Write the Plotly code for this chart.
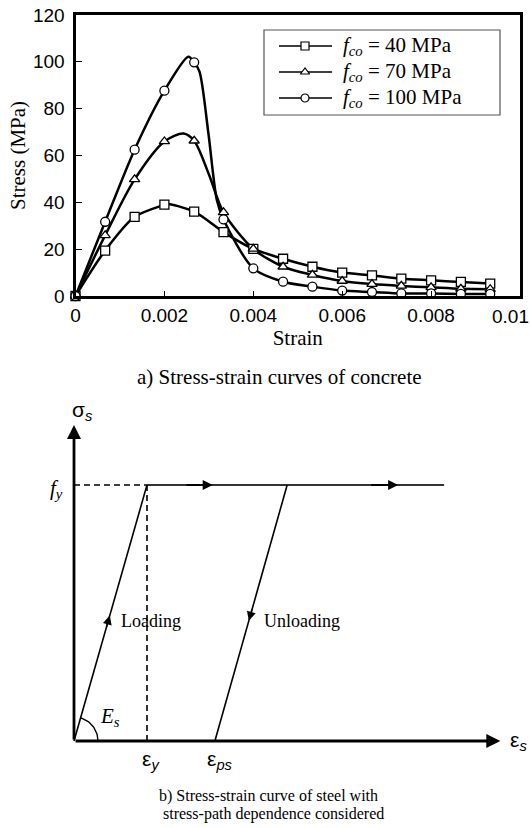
import numpy as np
import plotly.graph_objects as go

# ---------------- data: a) concrete stress-strain curves ----------------
strain_pts = [0, 0.000667, 0.00133, 0.002, 0.00267, 0.00333, 0.004, 0.00467,
              0.00533, 0.006, 0.00667, 0.00733, 0.008, 0.00867, 0.00933]
stress_40 = [0, 19.4, 33.8, 39.0, 36.0, 27.3, 20.1, 15.9, 12.5, 10.0, 8.8, 7.4, 6.7, 6.0, 5.3]
stress_70 = [0, 25.9, 49.8, 66.0, 66.3, 35.7, 20.1, 12.5, 9.0, 6.4, 5.1, 4.3, 3.7, 3.1, 2.9]
stress_100 = [0, 31.7, 62.5, 87.7, 99.8, 32.7, 11.8, 6.1, 4.0, 2.3, 1.7, 1.1, 1.1, 0.9, 0.9]

# additional points (between markers)
extra_40_x, extra_40_y = [0.00205], [39.4]
extra_70_x, extra_70_y = [0.00243, 0.0030], [69.4, 52.0]
extra_100_x, extra_100_y = [0.00254, 0.00279, 0.00299, 0.00318], [102.2, 95.8, 69.5, 41.0]

series_names = ["<i>f</i><sub><i>co</i></sub> = 40 MPa",
                "<i>f</i><sub><i>co</i></sub> = 70 MPa",
                "<i>f</i><sub><i>co</i></sub> = 100 MPa"]
series_symbols = ["square", "triangle-up", "circle"]

x_ticks = [0, 0.002, 0.004, 0.006, 0.008, 0.01]
x_tick_text = ["0", "0.002", "0.004", "0.006", "0.008", ""]
x_last_tick_text = "0.01"  # drawn right-aligned at the page edge, as in the original
y_ticks = [0, 20, 40, 60, 80, 100, 120]

# ---------------- data: b) steel schematic (normalised units) ----------------
eps_y = 1.0
eps_ps = 1.93
eps_unload_top = 2.92
eps_end = 5.07
f_y = 1.0
eps_axis_end = 5.84
sig_axis_end = 1.234

SERIF = "Liberation Serif"
SANS = "Liberation Sans"


def merged(xa, ya, xb, yb):
    pts = sorted(zip(list(xa) + list(xb), list(ya) + list(yb)))
    return [p[0] for p in pts], [p[1] for p in pts]


fig = go.Figure()

series = [(stress_40, extra_40_x, extra_40_y),
          (stress_70, extra_70_x, extra_70_y),
          (stress_100, extra_100_x, extra_100_y)]

for (ys, ex, ey) in series:
    cx, cy = merged(strain_pts, ys, ex, ey)
    fig.add_trace(go.Scatter(x=cx, y=cy, mode="lines", showlegend=False,
                             line=dict(color="black", width=2.5, shape="spline", smoothing=0.8),
                             xaxis="x", yaxis="y", hoverinfo="skip"))

for (ys, _, _), sym in zip(series, series_symbols):
    fig.add_trace(go.Scatter(x=strain_pts, y=ys, mode="markers", showlegend=False,
                             marker=dict(symbol=sym, size=9, color="white",
                                         line=dict(color="black", width=1.3)),
                             cliponaxis=False, xaxis="x", yaxis="y"))

# ---------------- custom legend (pixel-space overlay axes x3/y3) ----------------
legend_rows_y = [46, 72, 98]
annotations = []
for name, sym, ry in zip(series_names, series_symbols, legend_rows_y):
    fig.add_trace(go.Scatter(x=[279, 332], y=[ry, ry], mode="lines", showlegend=False,
                             line=dict(color="black", width=1.3),
                             xaxis="x3", yaxis="y3", hoverinfo="skip"))
    fig.add_trace(go.Scatter(x=[305], y=[ry], mode="markers", showlegend=False,
                             marker=dict(symbol=sym, size=8, color="white",
                                         line=dict(color="black", width=1.2)),
                             xaxis="x3", yaxis="y3", hoverinfo="skip"))
    annotations.append(dict(x=341, y=ry, xref="x3", yref="y3", text=name, showarrow=False,
                            xanchor="left", yanchor="middle",
                            font=dict(family=SERIF, size=21, color="black")))

# last x tick label, right-aligned at the page edge
annotations.append(dict(x=1, y=1 - 317 / 828, xref="paper", yref="paper",
                        text=x_last_tick_text, showarrow=False,
                        xanchor="right", yanchor="middle",
                        font=dict(family=SANS, size=19, color="black")))

# ---------------- b) steel diagram ----------------
solid_lines = [([0, eps_y], [0, f_y], 1.6, "black"),
               ([eps_y, eps_end], [f_y, f_y], 2.2, "#333333"),
               ([eps_unload_top, eps_ps], [f_y, 0], 1.6, "black")]
for xs, ys, w, c in solid_lines:
    fig.add_trace(go.Scatter(x=xs, y=ys, mode="lines", showlegend=False,
                             line=dict(color=c, width=w), xaxis="x2", yaxis="y2",
                             hoverinfo="skip"))

dashed_lines = [([0, eps_y], [f_y, f_y]), ([eps_y, eps_y], [f_y, 0])]
for xs, ys in dashed_lines:
    fig.add_trace(go.Scatter(x=xs, y=ys, mode="lines", showlegend=False,
                             line=dict(color="black", width=1.6, dash="6px,4px"),
                             xaxis="x2", yaxis="y2", hoverinfo="skip"))

# E_s arc (radius ~24 px on screen)
px_per_x = 73.0
px_per_y = 256.0
ang = np.linspace(0, np.arctan2(f_y * px_per_y, eps_y * px_per_x), 30)
fig.add_trace(go.Scatter(x=24 * np.cos(ang) / px_per_x, y=24 * np.sin(ang) / px_per_y,
                         mode="lines", showlegend=False, line=dict(color="black", width=1.4),
                         xaxis="x2", yaxis="y2", hoverinfo="skip"))


def arrow(x, y, ax, ay, width, head=2, size=1.0):
    annotations.append(dict(x=x, y=y, ax=ax, ay=ay, xref="x2", yref="y2",
                            axref="x2", ayref="y2", text="", showarrow=True,
                            arrowhead=head, arrowsize=size, arrowwidth=width,
                            arrowcolor="black"))


# axes
arrow(0, sig_axis_end, 0, 0, 2.8, head=2, size=1.0)
arrow(eps_axis_end, 0, 0, 0, 2.8, head=2, size=1.0)
# direction arrows along the path
arrow(1.90, f_y, 1.52, f_y, 2.0, head=2, size=1.0)
arrow(4.44, f_y, 4.05, f_y, 2.0, head=2, size=1.0)
arrow(0.49, 0.49, 0.44, 0.44, 1.5, head=2, size=1.2)
arrow(eps_ps + (eps_unload_top - eps_ps) * 0.47, 0.47,
      eps_ps + (eps_unload_top - eps_ps) * 0.52, 0.52, 1.5, head=2, size=1.2)


def label(text, x, y, size, family, xanchor="center", yanchor="middle"):
    annotations.append(dict(x=x, y=y, xref="x2", yref="y2", text=text, showarrow=False,
                            xanchor=xanchor, yanchor=yanchor,
                            font=dict(family=family, size=size, color="black")))


label("σ<sub><i>s</i></sub>", 0.12, 1.29, 21, SANS)
label("<i>f<sub>y</sub></i>", -0.12, 0.985, 21, SERIF, xanchor="right")
label("Loading", 0.62, 0.47, 18, SERIF, xanchor="left")
label("Unloading", 2.57, 0.47, 18, SERIF, xanchor="left")
label("<i>E<sub>s</sub></i>", 0.49, 0.095, 21, SERIF)
label("ε<sub><i>y</i></sub>", 1.06, -0.075, 21, SANS)
label("ε<sub><i>ps</i></sub>", 2.0, -0.075, 21, SANS)
label("ε<sub><i>s</i></sub>", 5.95, 0.0, 21, SANS, xanchor="left")

# captions (paper coords)
annotations.append(dict(x=279 / 531, y=1 - 377 / 828, xref="paper", yref="paper",
                        xanchor="center", yanchor="middle",
                        text="a) Stress-strain curves of concrete", showarrow=False,
                        font=dict(family=SERIF, size=21, color="black")))
annotations.append(dict(x=268 / 531, y=1 - 796 / 828, xref="paper", yref="paper",
                        xanchor="center", yanchor="middle",
                        text="b) Stress-strain curve of steel with", showarrow=False,
                        font=dict(family=SERIF, size=16, color="black")))
annotations.append(dict(x=274 / 531, y=1 - 814 / 828, xref="paper", yref="paper",
                        xanchor="center", yanchor="middle",
                        text="stress-path dependence considered", showarrow=False,
                        font=dict(family=SERIF, size=16, color="black")))

# legend box
shapes = [dict(type="rect", xref="paper", yref="paper",
               x0=264 / 531, x1=500 / 531, y0=1 - 115 / 828, y1=1 - 30 / 828,
               line=dict(color="#555555", width=1.2), fillcolor="white", layer="below")]

fig.update_layout(
    width=531, height=828,
    margin=dict(l=0, r=0, t=0, b=0, autoexpand=False),
    paper_bgcolor="white", plot_bgcolor="rgba(0,0,0,0)",
    showlegend=False,
    xaxis=dict(domain=[75.5 / 531, 520 / 531], range=[0, 0.0100001], anchor="y",
               tickvals=x_ticks, ticktext=x_tick_text,
               ticks="inside", ticklen=5, tickwidth=1, tickcolor="black",
               showline=True, linewidth=3, linecolor="black", mirror=True,
               showgrid=False, zeroline=False,
               tickfont=dict(family=SANS, size=19, color="black"),
               title=dict(text="Strain", standoff=6,
                          font=dict(family=SERIF, size=21, color="black"))),
    yaxis=dict(domain=[1 - 296 / 828, 1 - 15 / 828], range=[0, 120], anchor="x",
               tickvals=y_ticks, ticks="inside", ticklen=6, tickwidth=1, tickcolor="black",
               showline=True, linewidth=3, linecolor="black", mirror=True,
               showgrid=False, zeroline=False, ticklabelstandoff=4,
               tickfont=dict(family=SANS, size=19, color="black"),
               title=dict(text="Stress (MPa)", standoff=2,
                          font=dict(family=SERIF, size=21, color="black"))),
    xaxis2=dict(domain=[0, 1], range=[-74 / 73, (531 - 74) / 73], anchor="y2",
                visible=False, fixedrange=True),
    yaxis2=dict(domain=[0.05, 0.52], range=[-(828 * 0.95 - 741) / 256, (741 - 828 * 0.48) / 256],
                anchor="x2", visible=False, fixedrange=True),
    xaxis3=dict(domain=[0, 1], range=[0, 531], anchor="y3", visible=False, fixedrange=True),
    yaxis3=dict(domain=[0, 1], range=[828, 0], anchor="x3", visible=False, fixedrange=True),
    annotations=annotations,
    shapes=shapes,
)

fig.write_html("out.html",
               post_script="document.body.style.margin='0';document.body.style.overflow='hidden';")
